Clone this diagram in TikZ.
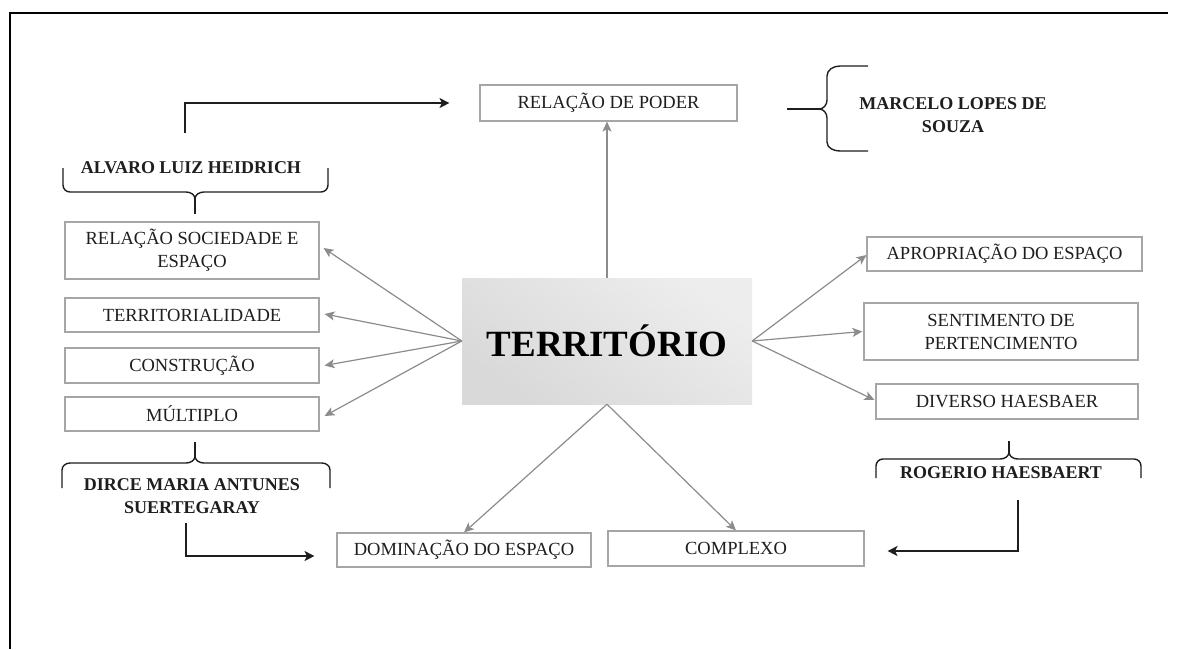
\documentclass[tikz,border=0pt]{standalone}
\usepackage{fontspec}
\setmainfont{Liberation Serif}
\usetikzlibrary{arrows.meta,calc}
\definecolor{boxgray}{HTML}{A6A6A6}
\definecolor{arrgray}{HTML}{8C8C8C}
\definecolor{ink}{HTML}{1E1E1E}
\newcommand\bxfont{\fontsize{18.5}{23}\selectfont}
\newcommand\aufont{\fontsize{18}{23}\selectfont\bfseries}
\begin{document}
\begin{tikzpicture}[x=1pt,y=-1pt,
  cbox/.style={draw=boxgray, line width=1.1pt, rectangle, inner sep=0pt, align=center, font=\bxfont, text=ink},
  author/.style={inner sep=0pt, align=center, font=\aufont, text=ink},
  garrow/.style={draw=arrgray, line width=1.2pt, -{Stealth[length=10pt,width=9pt,inset=2.5pt]}},
  karrow/.style={draw=ink, line width=1.6pt, -{Stealth[length=10pt,width=10pt,inset=2.5pt]}},
  brace/.style={draw=ink, line width=1.4pt},
  frame/.style={draw=black, line width=1.6pt}]
\useasboundingbox (0,0) rectangle (1179,649);
\fill[white] (0,0) rectangle (1179,649);
% frame
\draw[frame] (10,649) -- (10,13) -- (1168,13);

% central node
\node[draw=none, inner sep=0pt, minimum width=290pt, minimum height=126pt,
      top color=gray!14, bottom color=gray!30, shading angle=-35,
      font=\fontsize{37}{40}\selectfont\bfseries, text=black] (terr) at (607,341) {TERRITÓRIO};

% boxes
\node[cbox, minimum width=257pt, minimum height=36pt] (poder) at (608.5,103) {RELAÇÃO DE PODER};
\node[cbox, minimum width=254pt, minimum height=57pt] (rse) at (192,250.5) {RELAÇÃO SOCIEDADE E\\ESPAÇO};
\node[cbox, minimum width=254pt, minimum height=34pt] (tlid) at (192,315) {TERRITORIALIDADE};
\node[cbox, minimum width=254pt, minimum height=35pt] (cons) at (192,365.5) {CONSTRUÇÃO};
\node[cbox, minimum width=254pt, minimum height=34pt] (mult) at (192,414) {MÚLTIPLO};
\node[cbox, minimum width=275pt, minimum height=34pt] (apro) at (1004.5,254) {APROPRIAÇÃO DO ESPAÇO};
\node[cbox, minimum width=274pt, minimum height=57pt] (sent) at (1001,331.5) {SENTIMENTO DE\\PERTENCIMENTO};
\node[cbox, minimum width=262pt, minimum height=35pt] (dive) at (1007,401.5) {DIVERSO HAESBAER};
\node[cbox, minimum width=254pt, minimum height=34pt] (domi) at (464,550) {DOMINAÇÃO DO ESPAÇO};
\node[cbox, minimum width=256pt, minimum height=35pt] (comp) at (736,548.5) {COMPLEXO};

% author labels
\node[author] (alva) at (191,168) {ALVARO LUIZ HEIDRICH};
\node[author] (marc) at (953,115) {MARCELO LOPES DE\\SOUZA};
\node[author] (dirc) at (192,496) {DIRCE MARIA ANTUNES\\SUERTEGARAY};
\node[author] (roge) at (1001,473) {ROGERIO HAESBAERT};

% gray arrows from the centre
\draw[garrow] (terr.north) -- (terr.north |- poder.south);
\draw[garrow] (terr.west) -- ([xshift=4pt,yshift=2.5pt]rse.east);
\draw[garrow] (terr.west) -- ([xshift=5pt,yshift=1pt]tlid.east);
\draw[garrow] (terr.west) -- ([xshift=5pt]cons.east);
\draw[garrow] (terr.west) -- ([xshift=5pt,yshift=-2pt]mult.east);
\draw[garrow] (terr.east) -- ([yshift=-1pt]apro.west);
\draw[garrow] (terr.east) -- ([xshift=-1pt]sent.west);
\draw[garrow] (terr.east) -- ([xshift=-1pt,yshift=1.5pt]dive.west);
\draw[garrow] (terr.south) -- (domi.north);
\draw[garrow] (terr.south) -- (comp.north);

% braces
\draw[brace] (63,168) -- (63,185) to[out=-90,in=180] (70,192) -- (186,192)
  to[out=0,in=90] (195,199) to[out=90,in=180] (204,192) -- (321,192)
  to[out=0,in=-90] (328,185) -- (328,168);
\draw[brace] (195,199) -- (195,214);
\draw[brace] (868,66) -- (840,66) to[out=180,in=90] (827,76) -- (827,100)
  to[out=-90,in=0] (819,109) to[out=0,in=90] (827,118) -- (827,142)
  to[out=-90,in=180] (840,151) -- (868,151);
\draw[brace] (787,109) -- (819,109);
\draw[brace] (62,488) -- (62,470) to[out=90,in=180] (70,463) -- (186,463)
  to[out=0,in=-90] (195,456) to[out=-90,in=180] (204,463) -- (322,463)
  to[out=0,in=90] (330,470) -- (330,488);
\draw[brace] (195,456) -- (195,442);
\draw[brace] (876,478) -- (876,466) to[out=90,in=180] (883,459) -- (1000,459)
  to[out=0,in=-90] (1009,452) to[out=-90,in=180] (1018,459) -- (1134,459)
  to[out=0,in=90] (1141,466) -- (1141,478);
\draw[brace] (1009,452) -- (1009,441);

% black connectors from authors
\coordinate (a1) at (185,133);
\draw[karrow] (a1) |- ([xshift=-30pt]poder.west);
\coordinate (d1) at (186,523);
\draw[karrow] (d1) |- ($(domi.west)+(-22,6)$);
\coordinate (r1) at (1018,500);
\draw[karrow] (r1) |- ($(comp.east)+(23,2.5)$);
\end{tikzpicture}
\end{document}
